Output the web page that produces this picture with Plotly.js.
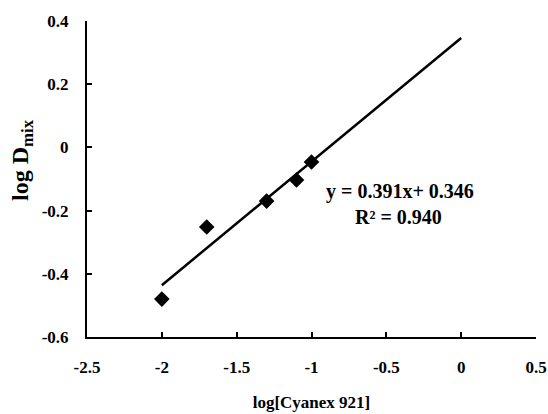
<!DOCTYPE html>
<html>
<head>
<meta charset="utf-8">
<script src="https://cdn.plot.ly/plotly-3.0.1.min.js"></script>
<style>html,body{margin:0;padding:0;background:#fff;}#chart{width:548px;height:414px;}</style>
</head>
<body>
<div id="chart"></div>
<script>
// Data
const logCyanex = [-2.0, -1.7, -1.3, -1.1, -1.0];
const logDmix = [-0.48, -0.252, -0.170, -0.103, -0.046];
// Linear fit shown on chart
const fitSlope = 0.391;
const fitIntercept = 0.346;
const fitX = [-2.0, 0.0];
const fitY = fitX.map(x => fitSlope * x + fitIntercept);
const xTicks = [-2.5, -2, -1.5, -1, -0.5, 0, 0.5];
const yTicks = [-0.6, -0.4, -0.2, 0, 0.2, 0.4];
const eqText = "y = 0.391x+ 0.346";
const r2Text = "R² = 0.940";

const fam = "Liberation Serif, Times New Roman, serif";
const tickFont = {family: fam, color: "#000", size: 17};
const titleFont = {family: fam, color: "#000", size: 17};

const traces = [
  {x: fitX, y: fitY, type: "scatter", mode: "lines", line: {color: "#000", width: 2.5}, hoverinfo: "skip", showlegend: false},
  {x: logCyanex, y: logDmix, type: "scatter", mode: "markers", marker: {symbol: "diamond", size: 12, color: "#000"}, showlegend: false}
];

const layout = {
  width: 548, height: 414,
  margin: {l: 87, r: 12, t: 21, b: 77},
  paper_bgcolor: "#fff", plot_bgcolor: "#fff",
  font: tickFont,
  showlegend: false,
  xaxis: {
    range: [-2.5, 0.5], tickvals: xTicks, ticktext: xTicks.map(v => "<b>" + v + "</b>"),
    showgrid: false, zeroline: false, showline: true, linecolor: "#000", linewidth: 2,
    ticks: "inside", ticklen: 5, tickwidth: 2, tickcolor: "#000",
    ticklabelstandoff: 14,
    tickfont: tickFont,
    title: {text: "<b>log[Cyanex 921]</b>", font: titleFont, standoff: 20}
  },
  yaxis: {
    range: [-0.6, 0.4], tickvals: yTicks, ticktext: yTicks.map(v => "<b>" + v + "</b>"),
    showgrid: false, zeroline: false, showline: true, linecolor: "#000", linewidth: 2,
    ticks: "inside", ticklen: 5, tickwidth: 2, tickcolor: "#000",
    ticklabelstandoff: 13,
    tickfont: tickFont
  },
  annotations: [
    {text: "<b>log D<sub>mix</sub></b>", xref: "paper", yref: "paper", x: (22 - 87) / 449, y: (337 - 160) / 316, textangle: -90, showarrow: false, font: {family: fam, size: 24, color: "#000"}, xanchor: "center", yanchor: "middle"},
    {text: "<b>" + eqText + "</b>", xref: "paper", yref: "paper", x: (400 - 87) / 449, y: (337 - 191) / 316, showarrow: false, font: {family: fam, size: 20, color: "#000"}, xanchor: "center", yanchor: "middle"},
    {text: "<b>" + r2Text + "</b>", xref: "paper", yref: "paper", x: (398 - 87) / 449, y: (337 - 217) / 316, showarrow: false, font: {family: fam, size: 20, color: "#000"}, xanchor: "center", yanchor: "middle"}
  ]
};

Plotly.newPlot("chart", traces, layout, {displayModeBar: false, staticPlot: true});
</script>
</body>
</html>
